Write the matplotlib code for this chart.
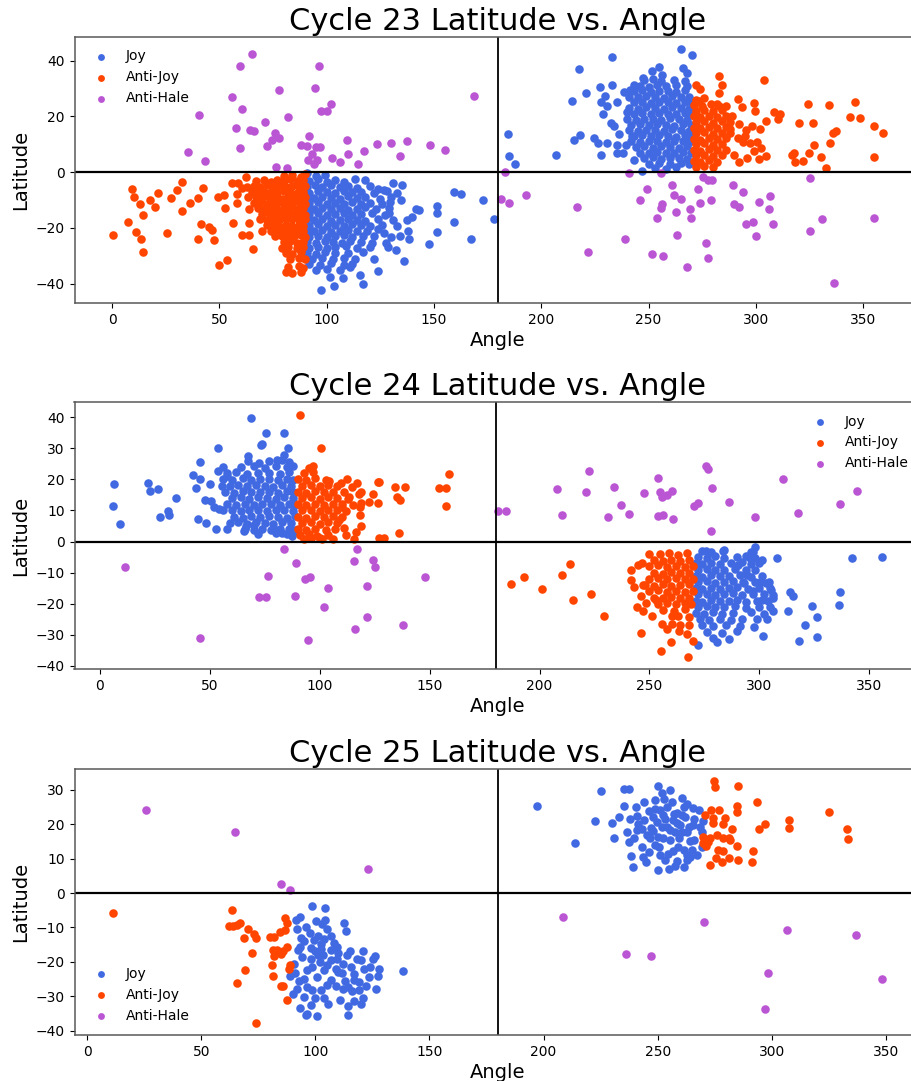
import numpy as np
import matplotlib
matplotlib.use("Agg")
import matplotlib.pyplot as plt

# ---------------------------------------------------------------- Cycle 23
c23_joy = [
    # southern cluster
    (91, -0.5), (95, -1.5), (99, -1),
    (92, -3.2), (96, -2.6), (100, -3.4), (104, -2.8), (108, -3.5), (113, -2.4), (118, -3),
    (91, -5.3), (94.5, -4.8), (98, -5.5), (102, -4.6), (106, -5.2), (110, -4.9), (114, -5.6), (120, -5), (124, -6),
    (92, -7.4), (96, -6.8), (100, -7.2), (104, -7.6), (108, -6.9), (112, -7.3), (116, -7), (122, -7.5), (128, -6.8),
    (91, -9), (94, -9.4), (98, -8.8), (102, -9.2), (106, -9.5), (110, -8.7), (114, -9.3), (118, -9), (125, -9.6), (130, -8.9),
    (92, -11.2), (96, -10.8), (100, -11.4), (104, -11), (108, -11.3), (112, -10.7), (116, -11.5), (120, -11), (126, -11.4),
    (91, -13), (94, -13.4), (98, -12.8), (102, -13.3), (106, -12.9), (110, -13.5), (114, -13.1), (118, -12.7), (123, -13.3), (129, -12.9),
    (92, -15.2), (96, -14.7), (100, -15.3), (104, -15), (108, -14.8), (112, -15.4), (116, -15), (121, -14.6), (127, -15.3),
    (91, -17), (94, -17.3), (98, -16.8), (102, -17.4), (106, -17.1), (110, -16.7), (114, -17.2), (118, -17.5), (124, -16.9), (131, -17.3),
    (92, -19.2), (96, -18.8), (100, -19.4), (104, -19), (108, -19.3), (112, -18.7), (116, -19.1), (120, -19.5), (126, -18.9),
    (91, -21), (94, -21.3), (98, -20.7), (102, -21.4), (106, -21.1), (110, -20.8), (114, -21.3), (119, -21), (124, -20.6),
    (92, -23.2), (96, -22.8), (100, -23.3), (104, -23), (108, -22.7), (112, -23.4), (117, -23.1), (122, -22.9), (130, -23.3),
    (91, -25), (95, -25.3), (99, -24.8), (103, -25.2), (107, -25.4), (111, -24.9), (116, -25.1), (121, -25.4),
    (92, -27.1), (96, -26.8), (100, -27.3), (104, -27), (109, -26.7), (114, -27.2), (120, -27),
    (91, -29), (95, -29.3), (99, -28.8), (104, -29.2), (110, -29), (117, -28.7),
    (93, -31.1), (98, -30.8), (103, -31.3), (108, -30.9), (113, -31.2),
    (92, -33), (97, -33.3), (102, -32.8), (108, -33.4), (112, -33),
    (95, -35.2), (100, -34.8), (106, -35.3),
    (97.4, -42.5), (103.3, -40.9), (107.5, -38.1), (115.7, -36.9), (116.9, -40.3), (101.6, -37.5),
    (111, -34.2), (124, -35.4), (121.9, -31.3), (136.2, -32.1), (147.5, -25.9), (151.6, -21.6),
    (159.2, -17.8), (151.6, -12.2), (151.6, -14.6), (159.2, -7.3), (162.7, -7.9), (172.7, -10),
    (177.9, -16.8), (167.3, -24.1), (138, -21.1), (138.3, -24.1), (141.8, -13.3), (132.9, -7.6),
    (134.8, -10), (126.7, -6.5), (137.5, -17.2), (128.9, -14.8), (126.7, -22), (132.1, -28),
    (143, -13.6), (135, -4.5), (129.7, -10.6), (133, -19.5), (128.4, -27), (140, -16.2),
    (131, -4), (127.6, -25.5), (134, -23),
    # northern cluster
    (184.4, 13.5), (185.2, 5.7), (187.6, 3), (207, 6.3), (214.4, 25.5), (215.1, 11.7),
    (218.2, 13.2), (217.6, 37), (220.9, 28.4), (233.2, 41.2), (224.8, 12.3), (226.3, 10.5),
    (227.9, 6.3), (227.6, 30.6), (229.6, 27.2), (228, 25.2), (230.7, 23.7), (228.6, 20.9),
    (233, 31.4), (235.3, 25.1), (232.5, 17.7), (234, 16.5), (236.1, 13.5), (230.7, 10.5),
    (235.3, 9.8), (235.3, 6.9), (238, 6.9), (239.7, 9.9), (240, 21.5), (238.7, 28.7),
    (241.5, 29.6), (243.4, 31.4), (247.4, 33.8), (251.6, 36.2), (254.7, 37.8), (256.3, 35),
    (265.9, 37.4), (268, 35.6), (265.3, 44.2), (270.3, 42.2), (242.3, 12.9), (243.1, 4.5), (247, 0.4),
    (248, 33), (252, 33.4), (256, 32.7), (262, 33.2), (267, 32.8),
    (246, 31), (250, 30.7), (254, 31.2), (258, 30.8), (263, 31.3), (268, 30.9),
    (243, 29), (247, 29.3), (251, 28.8), (255, 29.2), (259, 29), (263, 28.7), (267, 29.3),
    (241, 27), (245, 26.8), (249, 27.2), (253, 27), (257, 26.7), (261, 27.3), (265, 27), (269, 26.8),
    (243, 25), (247, 25.3), (251, 24.8), (255, 25.2), (259, 25), (263, 24.7), (267, 25.2), (270, 25),
    (241, 23), (245, 22.8), (249, 23.2), (253, 23), (257, 22.7), (261, 23.3), (265, 23), (269, 22.8),
    (243, 21), (247, 21.3), (251, 20.8), (255, 21.2), (259, 21), (263, 20.7), (267, 21.2), (270, 21),
    (240, 19), (244, 18.8), (248, 19.2), (252, 19), (256, 18.7), (260, 19.3), (264, 19), (268, 18.8),
    (242, 17), (246, 17.3), (250, 16.8), (254, 17.2), (258, 17), (262, 16.7), (266, 17.2), (270, 17),
    (241, 15), (245, 14.8), (249, 15.2), (253, 15), (257, 14.7), (261, 15.3), (265, 15), (269, 14.8),
    (243, 13), (247, 13.3), (251, 12.8), (255, 13.2), (259, 13), (263, 12.7), (267, 13.2), (270, 13),
    (242, 11), (246, 10.8), (250, 11.2), (254, 11), (258, 10.7), (262, 11.3), (266, 11), (269, 10.8),
    (244, 9), (248, 9.3), (252, 8.8), (256, 9.2), (260, 9), (264, 8.7), (268, 9.2),
    (246, 7), (250, 6.8), (254, 7.2), (258, 7), (262, 6.7), (266, 7.3), (270, 7),
    (248, 5), (252, 5.3), (256, 4.8), (260, 5.2), (264, 5), (268, 4.7),
    (250, 3), (255, 3.3), (260, 2.8), (265, 3.2), (269, 3),
    (253, 1.5), (258, 1.2), (263, 1.8),
]

c23_anti = [
    # southern cluster
    (0.6, -22.5), (9.3, -6.2), (10, -9.1), (13, -11.6), (14.6, -15.5), (11.3, -21.4),
    (13.5, -24.1), (14.4, -28.6), (7.6, -17.9), (17.7, -10), (19.9, -12.7), (21.3, -7.5),
    (25.6, -22), (27.5, -9.4), (30.3, -6.5), (32.5, -3.7), (32.5, -13.9), (36.3, -11.2),
    (40.1, -9.4), (42.5, -5.7), (41.5, -18.5), (39.9, -24), (45.2, -19.6), (46.6, -20.8),
    (47.3, -24.4), (50, -33.5), (53.7, -31.7), (49.2, -8.8), (52, -8.2), (52.6, -12.8),
    (56.2, -18.4), (56, -3.8), (58.5, -3.8), (58, -8), (58.2, -11.2), (60.6, -5.6),
    (62.9, -5.3), (62.6, -1.7), (63.2, -9.1), (64, -13.1), (63.7, -18.4), (60.6, -22.6),
    (64, -22.6), (65.7, -27.7),
    (80, -1.5), (84, -1), (88, -1.8), (90, -0.8),
    (67, -3.2), (71, -2.7), (74, -3.4), (77, -2.9), (80, -3.3), (83, -2.6), (86, -3.1), (89, -2.8),
    (66, -5), (69, -5.4), (72, -4.8), (75, -5.3), (78, -5), (81, -5.5), (84, -4.9), (87, -5.2), (90, -5),
    (65, -7.3), (68, -6.8), (71, -7.2), (74, -7), (77, -7.4), (80, -6.9), (83, -7.1), (86, -7.5), (89, -7),
    (67, -9), (70, -9.3), (73, -8.8), (76, -9.2), (79, -9.5), (82, -8.9), (85, -9.1), (88, -9.4), (90, -8.8),
    (66, -11.2), (69, -10.8), (72, -11.3), (75, -11), (78, -10.7), (81, -11.4), (84, -11.1), (87, -10.9), (90, -11.3),
    (68, -13), (71, -13.3), (74, -12.8), (77, -13.2), (80, -13), (83, -12.7), (86, -13.4), (89, -13),
    (70, -15.2), (73, -14.8), (76, -15.3), (79, -15), (82, -14.7), (85, -15.2), (88, -15), (90, -15.4),
    (69, -17), (72, -17.3), (75, -16.8), (78, -17.2), (81, -17), (84, -16.8), (87, -17.3), (90, -17),
    (72, -19.1), (75, -18.8), (78, -19.3), (81, -19), (84, -19.2), (87, -18.9), (89, -19.4),
    (70, -21), (74, -21.3), (77, -20.8), (80, -21.2), (83, -21), (86, -20.7), (89, -21.3),
    (76, -23.1), (79, -22.8), (82, -23.3), (85, -23), (88, -22.7), (90, -23.2),
    (80, -25.1), (83, -24.8), (86, -25.3), (89, -25),
    (79, -27.2), (82, -26.9), (86, -27.3), (89, -27),
    (81, -29), (84, -29.4), (88, -28.8),
    (83, -31.2), (87, -30.8), (90, -31.1),
    (82, -34), (87, -33.6), (89, -34.4),
    (81, -36), (84, -36.3), (88, -35.7),
    # northern cluster
    (282.7, 34.6), (304, 33.2), (284.2, 31.4), (282.7, 28.4), (291.5, 26.3), (299, 24.9),
    (293.6, 23.3), (299.8, 21.9), (308.3, 21.5), (311.4, 20.7), (310.2, 18.9), (304.9, 18.3),
    (324.2, 24.5), (334.3, 24.2), (346, 25.1), (343.7, 19.8), (348.7, 19.5), (320, 17.7),
    (326.7, 17.7), (355.2, 16.7), (359.1, 14.1), (337.5, 14.9), (336, 13.9), (334.7, 10.3),
    (327.3, 9.9), (324.6, 6.7), (318, 6.7), (316.9, 6), (318.4, 3.6), (322, 4), (330.5, 5.5),
    (332.7, 1.4), (354.9, 5.4), (304.6, 5.7), (301.3, 4.8), (302.4, 8.7), (299, 7.5),
    (297.5, 10.5), (300.5, 10.8), (301.8, 15.5), (298, 16.7), (295.5, 15.1), (292, 17.1),
    (291.5, 12.1), (293.9, 10.8), (288.1, 15.5), (286.1, 23.9), (281.9, 24.3), (273.4, 25.5),
    (274.2, 29.9), (272.1, 31.4), (289, 20), (295, 13), (290, 6), (292, 3.5), (296, 5),
    (272, 26), (276, 26.5),
    (271, 24.2), (275, 23.8), (279, 24.3), (283, 23.9),
    (272, 22), (276, 22.3), (280, 21.8), (284, 22.2),
    (271, 20), (274, 19.7), (278, 20.3), (282, 19.8), (286, 20.2),
    (272, 18), (276, 18.3), (280, 17.8), (284, 18.2), (288, 17.9),
    (271, 16), (274, 15.7), (278, 16.2), (282, 15.8), (286, 16.1),
    (272, 14), (276, 14.3), (280, 13.8), (284, 14.2), (288, 13.9),
    (271, 12), (274, 11.7), (278, 12.2), (282, 11.8), (286, 12.1),
    (272, 10), (276, 10.3), (280, 9.8), (284, 10.2),
    (271, 8), (274, 7.7), (278, 8.2), (282, 7.8), (286, 8.1),
    (272, 6), (276, 6.3), (280, 5.8), (284, 6.2),
    (271, 4), (274, 3.7), (278, 4.2), (282, 3.8),
    (272, 2), (276, 2.3), (280, 1.8),
]

c23_hale = [
    (65, 42.5), (59.8, 38.1), (96.4, 38.1), (94.5, 30.2), (78, 29.3), (55.7, 27.1),
    (60.6, 22.5), (40.6, 20.4), (82, 19.8), (97.5, 21.9), (100, 21.9), (101.8, 24.6),
    (57.9, 15.7), (64.5, 15.2), (66.3, 14.8), (71.5, 18), (75.8, 13.9), (78, 12.4),
    (74.5, 11.5), (72.3, 9.4), (59.8, 8.5), (35.2, 7.2), (43.3, 3.9), (91.8, 13.1),
    (88, 9.7), (91, 9.2), (95, 9.1), (97, 9.1), (91.5, 4.5), (93, 6.5), (94, 3),
    (95.5, 4.2), (102.3, 4.9), (106, 3.7), (109.4, 11.5), (109.9, 6.5), (114.5, 2.9),
    (117.2, 7.6), (123.4, 10), (130, 10.5), (137.5, 11.2), (134.3, 5.7), (148.3, 9.7),
    (155.1, 7.9), (168.7, 27.2), (76.6, 1.7), (81.5, 1.4),
    (183, -0.1), (181.4, -9.6), (185.2, -11), (193, -8.2), (216.8, -12.4), (221.9, -28.6),
    (239, -24.1), (241, -0.5), (245.8, -10), (249.3, -6.1), (255.6, -0.5), (254, -16.6),
    (256, -12.8), (256.4, -11.3), (251.8, -29.5), (256.6, -30.1), (261, -4.7), (262, -8.2),
    (262.9, -14.3), (263.4, -22.6), (265, -9.6), (268, -33.9), (269.5, -13.2), (272.9, -6.1),
    (274, -11.2), (275.6, -1.7), (277.5, -2.9), (279.7, -2.9), (279, -10), (277, -25.6),
    (277.8, -30.7), (270, -16.6), (289.2, -4.7), (290, -11.3), (294, -7), (292, -12.4),
    (295.3, -18.8), (298.5, -17.8), (300, -22.9), (301.4, -10.6), (308, -18.8), (306.2, -13.4),
    (306.8, -8.6), (325.2, -2.3), (325.2, -21.1), (330.6, -17), (336.6, -39.9), (354.9, -16.4),
]

# ---------------------------------------------------------------- Cycle 24
c24_joy = [
    # northern cluster
    (6.6, 18.5), (6.1, 11.6), (9, 5.6), (22, 18.8), (22.8, 16.3), (26.7, 16.8),
    (27.2, 7.8), (30.8, 9.8), (31.6, 8.7), (34.6, 13.9), (42.2, 21.4), (43.7, 17.1),
    (45.7, 25.5), (45.7, 20.1), (44.8, 7.4), (48.2, 6), (50, 18.4), (52, 11), (52.9, 4.1),
    (53.6, 30), (53.9, 22.8), (55.4, 17.8), (57.7, 4.2), (68.7, 39.9), (75.5, 35), (83.6, 34.8),
    (73.3, 31), (74, 31.5), (67.2, 27.5), (67.5, 25.9), (72.5, 25.2), (80.5, 26.4), (84, 28),
    (85.4, 30.2), (65.4, 3.5), (66.4, 5), (70.2, 5.3), (79.3, 4.2), (83.1, 2.6), (87.2, 1.8),
    (50.5, 13), (54, 10.5), (48, 13.5), (56, 24), (58, 21),
    (77, 26), (83, 26.3), (86, 25.7),
    (64, 24), (70, 24.3), (75, 23.8), (80, 24.2), (85, 23.9), (88, 24.3),
    (58, 22), (62, 22.3), (67, 21.8), (72, 22.2), (77, 22), (82, 21.7), (86, 22.3),
    (56, 20), (60, 19.7), (65, 20.3), (69, 19.8), (73, 20.2), (77, 20), (81, 19.7), (85, 20.2), (88, 19.8),
    (59, 18), (63, 18.3), (67, 17.8), (71, 18.2), (75, 18), (79, 17.7), (83, 18.3), (87, 18),
    (57, 16), (61, 15.7), (65, 16.2), (69, 15.8), (73, 16.1), (77, 16), (81, 15.7), (85, 16.2), (88, 15.8),
    (60, 14), (64, 14.3), (68, 13.8), (72, 14.2), (76, 14), (80, 13.7), (84, 14.2), (88, 14),
    (58, 12), (62, 11.7), (66, 12.2), (70, 11.8), (74, 12.1), (78, 12), (82, 11.7), (86, 12.2), (89, 11.9),
    (56, 10), (60, 10.3), (64, 9.8), (68, 10.2), (72, 10), (76, 9.7), (80, 10.2), (84, 10), (88, 9.8),
    (61, 8), (65, 7.7), (69, 8.2), (73, 7.8), (77, 8.1), (81, 8), (85, 7.7), (89, 8.2),
    (59, 6), (63, 6.3), (67, 5.8), (71, 6.2), (75, 6), (79, 5.7), (83, 6.2), (87, 6),
    (66, 4), (70, 3.7), (74, 4.2), (78, 3.8), (82, 4.1), (86, 4), (89, 3.7),
    (72, 2.5), (80, 2.8), (85, 2.3), (88, 2.6),
    # southern cluster
    (275.7, -3), (283.6, -3), (298, -1.9), (308.1, -5.2), (342.2, -5.4), (355.8, -4.9),
    (300.2, -12.9), (304.5, -12.9), (305.5, -15.6), (306.3, -18.3), (304.8, -21), (303.3, -25),
    (306, -22.3), (301, -18.8), (297.2, -15.9), (292.7, -12.9), (294.2, -10.8), (290.4, -7.6),
    (295.7, -5.4), (301, -5.9), (296.9, -3.5), (313.9, -16.1), (315.4, -17.5), (312.8, -22.4),
    (323.7, -20.7), (326, -24.2), (320.7, -27), (318.1, -32), (326.3, -30.8), (336.6, -16.3),
    (336.1, -20.4), (301.7, -30.3), (297.5, -27.4), (280.8, -32.4), (272.2, -33.3),
    (274, -3), (278, -3.3), (284, -2.7), (296, -3.2),
    (272, -5), (276, -5.3), (280, -4.8), (284, -5.2), (290, -5), (294, -4.7), (298, -5.3),
    (271, -7), (274, -7.3), (278, -6.8), (282, -7.2), (287, -7), (292, -6.7), (296, -7.3), (300, -7),
    (272, -9), (276, -8.8), (280, -9.2), (284, -9), (289, -8.7), (294, -9.3), (298, -9),
    (271, -11), (274, -11.3), (278, -10.8), (282, -11.2), (286, -11), (291, -10.7), (296, -11.3), (301, -11),
    (272, -13), (276, -12.8), (280, -13.2), (284, -13), (288, -12.7), (293, -13.3), (298, -13), (303, -13.2),
    (271, -15), (274, -15.3), (278, -14.8), (282, -15.2), (286, -15), (290, -14.7), (295, -15.3), (300, -15), (305, -14.8),
    (272, -17), (276, -16.8), (280, -17.2), (284, -17), (288, -16.7), (292, -17.3), (297, -17), (302, -16.8), (306, -17.2),
    (271, -19), (274, -19.3), (278, -18.8), (282, -19.2), (286, -19), (290, -18.7), (294, -19.3), (299, -19), (304, -19.2),
    (272, -21), (276, -20.8), (280, -21.2), (284, -21), (289, -20.7), (294, -21.3), (300, -21),
    (271, -23), (275, -23.3), (279, -22.8), (283, -23.2), (288, -23), (296, -22.7), (302, -23.2),
    (273, -25), (277, -25.3), (282, -24.8), (287, -25.2), (292, -25), (299, -24.8),
    (274, -27), (279, -27.3), (285, -26.8), (291, -27.2),
    (276, -29), (283, -29.3), (290, -28.8),
    (279, -31), (286, -31.2),
]

c24_anti = [
    # northern cluster
    (91, 40.8), (100.5, 30.1), (95, 23.8), (97, 24.2), (104.3, 19.5), (109.7, 18.7),
    (112.6, 20), (114.5, 17.5), (116.8, 18.8), (118, 15.3), (126.6, 19.2), (124.3, 15.2),
    (122.4, 12.7), (119, 12.3), (118.5, 11.2), (118.3, 8.5), (134.2, 17.4), (135, 14.4),
    (136.5, 13.3), (138.9, 17.6), (136.3, 2.8), (118.7, 4.9), (115.4, 0.9), (116.7, 3.2),
    (127.2, 1.1), (129.2, 1.1), (154.2, 17.2), (157.5, 17.2), (159, 21.7), (157.5, 11.3),
    (113.3, 14.4), (119, 15.8), (127, 19.2), (126.5, 12.5), (110, 11), (109, 7), (111, 4.5),
    (112, 2), (100, 1), (96, 1.2), (106, 0.8),
    (93, 22), (97, 22.3),
    (90, 20), (94, 19.7), (98, 20.3), (103, 19.8),
    (92, 18), (96, 18.3), (100, 17.8), (104, 18.2), (108, 17.9),
    (90, 16), (94, 15.7), (98, 16.2), (102, 15.8), (106, 16.1), (111, 16),
    (92, 14), (96, 14.3), (100, 13.8), (104, 14.2), (108, 14), (113, 13.7),
    (90, 12), (94, 11.7), (98, 12.2), (102, 11.8), (106, 12.1), (110, 12), (115, 11.7),
    (92, 10), (96, 10.3), (100, 9.8), (104, 10.2), (108, 10), (112, 9.7),
    (90, 8), (94, 7.7), (98, 8.2), (102, 7.8), (106, 8.1), (110, 8),
    (92, 6), (96, 6.3), (100, 5.8), (104, 6.2), (108, 6),
    (90, 4), (94, 3.7), (98, 4.2), (103, 3.8), (107, 4.1),
    (91, 2), (95, 2.3), (99, 1.8), (104, 2.2),
    (93, 0.8), (101, 0.9),
    # southern cluster
    (186.9, -13.8), (193.1, -11.3), (201, -15.4), (210.4, -10.6), (213.9, -7.3), (215.2, -18.7),
    (223.4, -17), (229.5, -23.8), (241.6, -9.2), (245, -7.5), (246.5, -6.8), (249.8, -4),
    (241.4, -12.4), (243, -14.5), (247, -14), (246.1, -17.5), (244.5, -20.9), (247, -22.5),
    (248.3, -19.8), (246.3, -29.3), (253, -18.8), (255.5, -26.6), (260.1, -23.8), (260.4, -26.6),
    (259.8, -32.2), (255.1, -35.1), (263.5, -28.7), (264, -26.9), (267.6, -37), (268, -26.9),
    (270, -32), (267.2, -29.8), (251, -24), (258, -28),
    (255, -4), (259, -3.7), (263, -4.2), (267, -3.8),
    (252, -6), (256, -6.3), (260, -5.8), (264, -6.2), (268, -6),
    (250, -8), (254, -7.7), (258, -8.2), (262, -7.8), (266, -8.1), (270, -8),
    (252, -10), (256, -10.3), (260, -9.8), (264, -10.2), (268, -10),
    (250, -12), (254, -11.7), (258, -12.2), (262, -11.8), (266, -12.1), (270, -12),
    (248, -14), (252, -14.3), (256, -13.8), (260, -14.2), (264, -14), (268, -13.7),
    (250, -16), (254, -15.7), (258, -16.2), (262, -15.8), (266, -16.1), (270, -16),
    (252, -18), (256, -18.3), (260, -17.8), (264, -18.2), (268, -18),
    (254, -20), (258, -19.7), (262, -20.2), (266, -19.8), (269, -20.1),
    (256, -22), (261, -22.3), (266, -21.8),
    (263, -24), (268, -24.2),
]

c24_hale = [
    (181.2, 9.9), (184.6, 9.9), (207.8, 16.8), (210, 8.7), (221, 16.1), (222.6, 22.8),
    (231, 7.8), (233.9, 17.4), (236.9, 11.8), (240.8, 8.9), (247.5, 15.6), (253.9, 20.6),
    (254.1, 8.3), (256, 8.4), (255, 15.9), (255.5, 14.4), (258, 15), (260.4, 16.2),
    (260.6, 7.1), (270.2, 11.4), (272.3, 12.3), (275.7, 24.3), (276.8, 23.2), (278.3, 17.1),
    (278.1, 3.4), (286.3, 12.7), (298.2, 8), (310.9, 20.1), (317.4, 9.2), (336.8, 12.2),
    (344.2, 16.3),
    (11.6, -8.2), (45.6, -30.9), (72.6, -17.7), (75.8, -17.7), (76.6, -11.2), (83.7, -2.3),
    (88.7, -17.5), (89.3, -6.8), (93.5, -12), (95.6, -11.3), (94.5, -31.8), (102.2, -20.9),
    (103.8, -15), (115.9, -28), (115.6, -6.2), (116.9, -2.3), (121.7, -14.2), (121.7, -24.2),
    (124.4, -5.9), (125.2, -8.3), (138, -26.9), (147.9, -11.3),
]

# ---------------------------------------------------------------- Cycle 25
c25_joy = [
    # southern cluster
    (98.7, -3.9), (104.1, -4.3), (91.4, -7.7), (93.1, -7), (100.1, -8.1), (104.1, -7.7),
    (97.5, -11.5), (103, -8.9), (105.2, -10.6), (112.5, -8.6), (113.6, -11.1), (99.4, -13.6),
    (101.1, -12.6), (102.7, -14.7), (108.2, -14.5), (109.6, -15.7), (93.8, -13), (92.5, -16.5),
    (93.5, -15.7), (99.7, -16.9), (102.3, -16.2), (103.5, -18.1), (115.2, -16.9), (114, -18.1),
    (118.1, -19.1), (119.8, -19.6), (106.9, -19.6), (109.6, -19.1), (90.6, -20.5), (91.3, -23.4),
    (96.5, -22.5), (98.7, -21.5), (103.8, -22.5), (106.7, -25.4), (111.7, -23.2), (116.9, -25.4),
    (123.5, -24.4), (125.4, -19.1), (96.5, -27.3), (98.7, -28.3), (112.1, -27.8), (114.3, -27.3),
    (116.2, -28.5), (119.1, -28.3), (120.7, -30.4), (90.2, -29.3), (91.8, -27.8), (93.5, -33.4),
    (95, -30.2), (96.5, -35.1), (100.9, -35.8), (105.5, -32.4), (114.3, -33), (114.3, -35.6),
    (95, -24.9), (100.9, -24.4), (97.9, -19.1), (105.2, -21), (108.9, -22), (115.5, -21.5),
    (121.3, -22), (102.3, -28.3), (105.2, -26.8), (94.3, -18.6), (102, -20.1),
    (138.5, -22.7), (127.4, -24), (126, -18.4), (120.2, -32.4), (96, -35.4), (110, -17.5),
    (112, -20.5), (107, -12.5), (96, -10), (100, -30.5),
    (92, -10.5), (95, -14), (98, -16), (101, -18), (104, -13.5), (107, -16.5), (110, -23),
    (113, -25.5), (117, -23.5), (119, -26), (122, -27), (109, -27), (104, -30.5), (98, -32.5),
    (93, -25.5), (89, -24), (111, -31), (117, -31.5), (121, -17), (124, -21.5), (126.5, -28),
    (128, -22),
    # northern cluster
    (197, 25.3), (213.9, 14.5), (222.4, 21), (225.3, 29.7), (229.8, 20.4), (235.2, 30.2),
    (237.6, 30.4), (235.2, 25.3), (240.3, 25.1), (236.7, 17.7), (239.6, 16.1), (237.6, 14.9),
    (238.3, 10.8), (243.7, 10.4), (239, 7.5), (250.3, 6.7), (250.3, 31.2), (251.7, 29.2),
    (255.4, 29.9), (252.9, 27.3), (256.1, 26.6), (260.5, 27.7), (261.5, 25.1), (251, 24.1),
    (248.8, 24.4), (252.5, 22.7), (258.3, 23.4), (260.5, 22.7), (262.7, 25.8), (265.6, 24.8),
    (268.2, 24.3), (241.5, 20.1), (244, 21.2), (240.8, 18.3), (247.8, 22.2), (249.5, 20.7),
    (251.7, 19.3), (253.9, 19.3), (256.8, 21.2), (258.3, 20.3), (259.8, 19.8), (263.9, 19.3),
    (265.6, 19.8), (268.5, 19.3), (245.2, 16.9), (246.6, 15.9), (250.3, 16.4), (252.5, 15.9),
    (255.4, 18.3), (257.6, 17.8), (260.5, 17.8), (262.7, 17.8), (264.1, 15.1), (269.3, 17.8),
    (248.8, 14), (250.7, 13.5), (255.4, 15.4), (259.5, 15.9), (256.5, 12.2), (254.6, 11.5),
    (261.5, 12.5), (263, 11.1), (262.7, 9.6), (258.3, 9.3), (257.6, 8), (261.7, 7.7),
    (264.9, 12.5), (269.3, 13.5), (264.1, 10.6), (243, 18.5), (247, 19), (253, 21.5),
    (244, 26.5), (246, 24), (249, 27), (254, 25), (257, 23), (262, 22), (266, 21.5), (248, 18),
    (251, 11), (253, 9.5), (255, 6.9), (259, 13.5), (266, 15.5), (267, 11), (243, 13.5),
    (246, 12), (241, 22.5), (238, 21.5), (233, 22), (231, 16), (270, 21), (245, 9),
]

c25_anti = [
    # southern cluster
    (11.3, -5.8), (63.3, -4.8), (62, -9.7), (63.8, -9.7), (65.5, -9.4), (66.8, -8.6),
    (70.5, -10.4), (68.7, -13.1), (73.1, -11.8), (73.8, -13), (72.1, -17.4), (69, -22.3),
    (65.8, -26.2), (73.8, -37.8), (80.1, -12.8), (81.9, -12.8), (84.5, -11.3), (86.5, -10.8),
    (86.5, -7.2), (87.4, -8.7), (81.6, -16.5), (83, -16.5), (82.1, -18.4), (85.7, -16.9),
    (85.1, -17.8), (87.7, -15.7), (81.1, -21), (81.3, -24.2), (84.8, -27.1), (85.9, -26.9),
    (87.7, -31), (88.6, -22), (88.9, -21),
    # northern cluster
    (274.7, 32.6), (275.1, 30.9), (285.3, 31.1), (284.9, 25.4), (284.9, 23.5), (293.4, 26.4),
    (273.2, 24.3), (277, 24.3), (270.7, 22.7), (274.1, 21.7), (274.4, 20.3), (279.6, 21.7),
    (278.7, 20), (282.6, 18.6), (270, 16.4), (272.9, 15.9), (275.8, 16.9), (278.7, 15.9),
    (281.4, 16.1), (271.2, 13.8), (270, 14.7), (276.6, 12.5), (278.7, 12.2), (275.5, 10.3),
    (278, 8.9), (281.1, 10.1), (284.9, 13.8), (291.6, 12.2), (285.3, 9.6), (291.5, 8.9),
    (272.9, 8.3), (297.2, 20), (294.2, 18.6), (307.7, 21.2), (307.5, 19), (325.1, 23.6),
    (333.1, 18.5), (333.5, 15.8), (272.2, 14.9), (281.7, 15.4),
]

c25_hale = [
    (25.7, 24.2), (64.9, 17.9), (123, 7.1), (84.8, 2.5), (89.1, 0.8),
    (208.6, -7), (270.4, -8.4), (306.8, -10.8), (336.9, -12.3), (236, -17.6), (247, -18.4),
    (298.5, -23.4), (348.1, -25), (296.9, -33.8),
]

titles = ["Cycle 23 Latitude vs. Angle", "Cycle 24 Latitude vs. Angle", "Cycle 25 Latitude vs. Angle"]
series_labels = ["Joy", "Anti-Joy", "Anti-Hale"]
colors = ["royalblue", "orangered", "mediumorchid"]

W, H = 911, 1081
fig = plt.figure(figsize=(W / 100, H / 100), dpi=100)

# axes boxes in pixels: left, top, right, bottom
boxes = [(74.5, 37, 920, 303), (74.5, 402, 921, 669), (74.5, 769, 920, 1035)]
xlims = [(-17.5, 376.5), (-11.5, 373.5), (-5.5, 364.9)]
ylims = [(-47.0, 48.5), (-41.0, 44.9), (-41.3, 36.1)]
legend_locs = ["upper left", "upper right", "lower left"]
data = [(c23_joy, c23_anti, c23_hale), (c24_joy, c24_anti, c24_hale), (c25_joy, c25_anti, c25_hale)]

for k in range(3):
    l, t, r, b = boxes[k]
    ax = fig.add_axes([l / W, 1 - b / H, (r - l) / W, (b - t) / H])
    for pts, lab, col in zip(data[k], series_labels, colors):
        arr = np.array(pts, dtype=float)
        ax.scatter(arr[:, 0], arr[:, 1], s=38, color=col, linewidths=0, label=lab)
    ax.axhline(0, color="black", lw=1.6)
    ax.axvline(180, color="black", lw=1.3)
    ax.set_xlim(*xlims[k])
    ax.set_ylim(*ylims[k])
    ax.set_xticks(np.arange(0, 351, 50))
    ax.set_title(titles[k], fontsize=22, pad=5)
    ax.set_xlabel("Angle", fontsize=14, labelpad=3)
    ax.set_ylabel("Latitude", fontsize=14, labelpad=4)
    ax.tick_params(labelsize=10)
    for sp in ax.spines.values():
        sp.set_color("0.35")
        sp.set_linewidth(1.1)
    ax.legend(loc=legend_locs[k], frameon=False, fontsize=10, markerscale=0.8)

fig.savefig("out.png", dpi=100)
